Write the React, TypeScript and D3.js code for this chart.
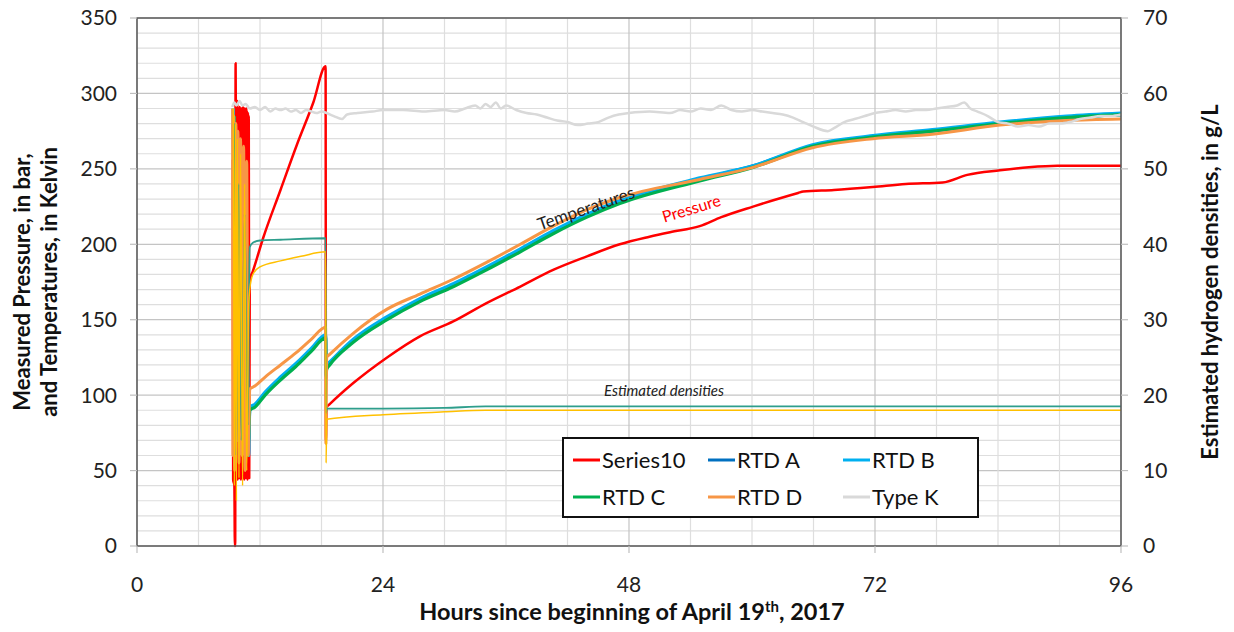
import * as d3 from 'd3'

type Pt = [number, number]

// hours since start, pressure in bar
const series10: Pt[] = [
  [9.35, 256], [9.38, 44], [9.5, 40], [9.55, 0], [9.58, 0], [9.62, 320], [9.64, 292],
  [9.66, 46], [9.7, 290], [9.74, 50], [9.78, 295], [9.82, 44], [9.86, 290], [9.9, 48],
  [9.94, 288], [9.98, 45], [10.02, 291], [10.06, 47], [10.1, 289], [10.14, 44], [10.18, 290],
  [10.22, 46], [10.26, 288], [10.3, 45], [10.34, 291], [10.38, 47], [10.42, 289], [10.46, 44],
  [10.5, 290], [10.54, 46], [10.58, 288], [10.62, 45], [10.66, 290], [10.7, 48], [10.74, 288],
  [10.78, 44], [10.82, 287], [10.86, 46], [10.9, 285], [10.95, 45], [11.0, 176], [11.3, 182],
  [12.3, 204], [14.0, 236], [15.6, 266], [17.2, 294], [18.4, 318], [18.43, 70], [18.5, 92],
  [18.8, 94], [21.1, 108], [24.4, 125], [27.6, 139], [30.9, 149], [34.1, 161], [37.4, 172],
  [40.6, 183], [43.9, 192], [47.1, 200], [50, 205], [52, 208], [54.9, 212], [57, 218],
  [60.1, 225], [62, 229], [64.5, 234], [65, 235], [68, 236], [71.8, 238], [75, 240],
  [78.6, 241], [81, 246], [84.2, 249], [87, 251], [89.8, 252], [93, 252], [96, 252]
]

// temperatures in Kelvin
const rtdA: Pt[] = [
  [9.4, 280], [9.55, 120], [9.75, 230], [9.95, 100], [10.2, 210], [10.45, 90], [10.7, 170],
  [10.9, 70], [11.0, 91], [11.5, 93], [12.5, 101], [14, 111], [15.5, 120], [17, 130],
  [18.4, 139], [18.45, 114], [18.5, 119], [18.8, 121], [21.1, 136], [24.4, 151], [27.6, 163],
  [30.9, 173], [34.1, 184], [37.4, 196], [40.6, 208], [43.9, 219], [47.1, 228], [54.9, 243],
  [60.1, 252], [65.9, 265], [71.8, 271], [77.6, 275], [84.2, 280], [90.7, 284], [96, 286]
]

const rtdB: Pt[] = [
  [9.38, 290], [9.42, 262], [9.48, 276], [9.6, 165], [9.7, 240], [9.8, 120], [9.9, 200],
  [10.1, 90], [10.3, 180], [10.5, 100], [10.7, 150], [10.9, 60], [11.0, 92], [11.5, 94],
  [12.5, 102], [14, 112], [15.5, 121], [17, 131], [18.4, 140], [18.45, 112], [18.5, 120],
  [18.8, 122], [21.1, 137], [24.4, 152], [27.6, 164], [30.9, 174], [34.1, 185], [37.4, 197],
  [40.6, 209], [43.9, 220], [47.1, 229], [54.9, 244], [60.1, 252], [65.9, 266], [71.8, 272],
  [77.6, 276], [84.2, 281], [90.7, 285], [96, 287]
]

const rtdC: Pt[] = [
  [9.5, 285], [9.7, 100], [9.9, 250], [10.2, 80], [10.5, 200], [10.8, 60], [11.0, 90],
  [11.5, 92], [12.5, 100], [14, 110], [15.5, 119], [17, 129], [18.4, 138], [18.45, 113],
  [18.5, 117], [18.8, 120], [21.1, 135], [24.4, 150], [27.6, 162], [30.9, 172], [34.1, 183],
  [37.4, 195], [40.6, 207], [43.9, 218], [47.1, 227], [54.9, 242], [60.1, 251], [65.9, 265],
  [71.8, 271], [77.6, 275], [84.2, 280], [90.7, 284], [96, 286]
]

const rtdD: Pt[] = [
  [9.33, 290], [9.36, 60], [9.45, 285], [9.52, 50], [9.65, 280], [9.75, 70], [9.85, 275],
  [9.95, 55], [10.1, 270], [10.25, 60], [10.4, 265], [10.55, 50], [10.7, 255], [10.85, 60],
  [11.0, 104], [11.5, 106], [12.5, 112], [14, 120], [15.5, 128], [17, 137], [18.4, 145],
  [18.43, 68], [18.5, 125], [18.8, 127], [21.1, 141], [24.4, 157], [27.6, 167], [30.9, 177],
  [34.1, 188], [37.4, 200], [40.6, 212], [43.9, 223], [47.1, 231], [54.9, 243], [60.1, 251],
  [65.9, 264], [71.8, 270], [77.6, 273], [84.2, 279], [90.7, 282], [96, 283]
]

const typeK: Pt[] = [
  [9.3, 291], [9.5, 294], [9.7, 292], [10, 295], [10.3, 292], [10.6, 293], [11, 290],
  [11.5, 291], [12, 289], [12.5, 291], [13, 288], [13.5, 290], [14, 289], [14.5, 290],
  [15, 288], [15.5, 289], [16, 287], [16.5, 289], [17, 288], [17.5, 287], [18, 288],
  [18.5, 287], [19.2, 285], [20, 283], [20.5, 286], [21.5, 287], [23, 288], [24, 289],
  [26, 289], [28, 288], [30, 289], [31, 288], [32, 290], [33, 292], [33.5, 290], [34, 293],
  [34.5, 291], [35, 294], [35.5, 290], [36, 292], [37, 289], [38, 287], [39, 286], [40, 284],
  [41, 282], [42, 281], [43, 279], [44, 280], [45, 281], [46, 284], [47, 286], [48, 287],
  [50, 288], [52, 287], [53, 289], [54, 288], [55, 290], [56, 289], [57, 292], [58, 289],
  [59, 288], [60, 289], [61, 288], [62, 287], [63, 286], [64, 284], [65, 281], [66, 278],
  [67.4, 275], [68, 277], [69, 281], [70, 283], [71, 285], [72, 287], [73, 288], [74, 289],
  [75, 288], [76, 289], [77, 289], [78, 290], [79, 291], [80, 292], [80.7, 294], [81.3, 290],
  [82, 288], [83, 285], [84, 281], [85, 280], [86, 278], [87, 279], [88, 278], [89, 280],
  [90, 280], [91, 281], [92, 283], [93, 284], [94, 285], [95, 285], [96, 286]
]

// estimated hydrogen densities, g/L (secondary axis)
const densityTeal: Pt[] = [
  [9.5, 56], [9.7, 12], [9.9, 48], [10.2, 14], [10.5, 44], [10.8, 16], [11.0, 39.6],
  [11.3, 40.2], [12, 40.5], [14, 40.6], [18.4, 40.8], [18.45, 17.6], [18.5, 18.2], [24, 18.2],
  [30, 18.3], [34, 18.5], [96, 18.5]
]

const densityYellow: Pt[] = [
  [9.4, 58], [9.5, 8], [9.6, 56], [9.7, 6], [9.8, 54], [9.95, 9], [10.1, 52], [10.3, 8],
  [10.5, 48], [10.7, 10], [10.9, 32], [11.0, 34], [11.3, 36], [12, 37], [14, 37.8], [16, 38.4],
  [18.4, 39], [18.45, 11], [18.5, 16.8], [24, 17.4], [30, 17.8], [34, 18], [96, 18]
]

const xTicks = [0, 24, 48, 72, 96]
const yLeftTicks = [0, 50, 100, 150, 200, 250, 300, 350]
const yRightTicks = [0, 10, 20, 30, 40, 50, 60, 70]

const legendNames = ['Series10', 'RTD A', 'RTD B', 'RTD C', 'RTD D', 'Type K']
const legendColors = ['#ff0000', '#0070c0', '#00b0f0', '#00b050', '#f79646', '#d9d9d9']

const W = 1234, H = 632
const margin = { top: 18, right: 113, bottom: 86, left: 137 }
const FONT = 'Lato, "Open Sans", sans-serif'

export default function App() {
  const iw = W - margin.left - margin.right
  const ih = H - margin.top - margin.bottom

  const x = d3.scaleLinear().domain([0, 96]).range([0, iw])
  const yL = d3.scaleLinear().domain([0, 350]).range([ih, 0])
  const yR = d3.scaleLinear().domain([0, 70]).range([ih, 0])

  const lineL = d3.line<Pt>().x(d => x(d[0])).y(d => yL(d[1])).curve(d3.curveMonotoneX)
  const lineR = d3.line<Pt>().x(d => x(d[0])).y(d => yR(d[1])).curve(d3.curveMonotoneX)

  const primary = [
    { data: series10, color: legendColors[0], w: 2.5 },
    { data: rtdA, color: legendColors[1], w: 3.2 },
    { data: rtdB, color: legendColors[2], w: 3.2 },
    { data: rtdC, color: legendColors[3], w: 3.2 },
    { data: rtdD, color: legendColors[4], w: 3 },
    { data: typeK, color: legendColors[5], w: 2.5 },
  ]

  const vGrid = d3.range(0, 97, 6)
  const hGrid = d3.range(0, 351, 10)

  return (
    <svg width={W} height={H} style={{ position: 'absolute', left: 0, top: 0, background: '#fff' }}
      fontFamily={FONT}>
      <g transform={`translate(${margin.left},${margin.top})`}>
        {hGrid.map(v => (
          <line key={'h' + v} x1={0} x2={iw} y1={yL(v)} y2={yL(v)}
            stroke={v % 50 === 0 ? '#c4c4c4' : '#dedede'} strokeWidth={1.2} />
        ))}
        {vGrid.map(v => (
          <line key={'v' + v} x1={x(v)} x2={x(v)} y1={0} y2={ih}
            stroke={v % 24 === 0 ? '#c4c4c4' : '#dedede'} strokeWidth={1.2} />
        ))}

        {primary.map((s, i) => (
          <path key={i} d={lineL(s.data) ?? ''} fill="none" stroke={s.color}
            strokeWidth={s.w} strokeLinejoin="round" />
        ))}
        <path d={lineR(densityTeal) ?? ''} fill="none" stroke="#2e9e8c" strokeWidth={1.8} />
        <path d={lineR(densityYellow) ?? ''} fill="none" stroke="#ffc000" strokeWidth={1.5} />

        <rect x={0} y={0} width={iw} height={ih} fill="none" stroke="#595959" strokeWidth={1.5} />

        {/* left axis */}
        {yLeftTicks.map(v => (
          <g key={'yl' + v} transform={`translate(0,${yL(v)})`}>
            <line x1={-7} x2={0} stroke="#bfbfbf" strokeWidth={1.2} />
            <text x={-20} dy="0.35em" textAnchor="end" fontSize={21} fill="#222">{v}</text>
          </g>
        ))}
        {/* right axis */}
        {yRightTicks.map(v => (
          <g key={'yr' + v} transform={`translate(${iw},${yR(v)})`}>
            <line x1={0} x2={7} stroke="#bfbfbf" strokeWidth={1.2} />
            <text x={22} dy="0.35em" textAnchor="start" fontSize={21} fill="#222">{v}</text>
          </g>
        ))}
        {/* bottom axis */}
        {xTicks.map(v => (
          <g key={'x' + v} transform={`translate(${x(v)},${ih})`}>
            <line y1={0} y2={7} stroke="#bfbfbf" strokeWidth={1.2} />
            <text y={46} textAnchor="middle" fontSize={21} fill="#222">{v}</text>
          </g>
        ))}

        {/* annotations */}
        <text transform="translate(451,196) rotate(-19)" textAnchor="middle" fontSize={17} fill="#222">Temperatures</text>
        <text transform="translate(556,196) rotate(-17)" textAnchor="middle" fontSize={16} fill="#ff0000">Pressure</text>
        <text x={527} y={378} textAnchor="middle" fontSize={15} fontStyle="italic" fill="#222">Estimated densities</text>

        {/* legend */}
        <g transform="translate(426,420)">
          <rect x={0} y={0} width={415} height={79} fill="#fff" stroke="#111" strokeWidth={2} />
          {legendNames.map((n, i) => {
            const col = i % 3, row = Math.floor(i / 3)
            const lx = 10 + col * 135, ly = 22 + row * 37
            return (
              <g key={n} transform={`translate(${lx},${ly})`}>
                <line x1={0} x2={27} y1={0} y2={0} stroke={legendColors[i]} strokeWidth={3} />
                <text x={29} dy="0.35em" fontSize={22} fill="#111">{n}</text>
              </g>
            )
          })}
        </g>
      </g>

      {/* axis titles */}
      <text transform="translate(22,282) rotate(-90)" textAnchor="middle" dy="0.35em"
        fontSize={22} fontWeight="bold" fill="#111">Measured Pressure, in bar,</text>
      <text transform="translate(49,282) rotate(-90)" textAnchor="middle" dy="0.35em"
        fontSize={22} fontWeight="bold" fill="#111">and Temperatures, in Kelvin</text>
      <text transform="translate(1210,282) rotate(-90)" textAnchor="middle" dy="0.35em"
        fontSize={22} fontWeight="bold" fill="#111">Estimated hydrogen densities, in g/L</text>
      <text x={632} y={620} textAnchor="middle" fontSize={23.5} fontWeight="bold" fill="#111">
        Hours since beginning of April 19<tspan dy={-8} fontSize={15}>th</tspan><tspan dy={8}>, 2017</tspan>
      </text>
    </svg>
  )
}
